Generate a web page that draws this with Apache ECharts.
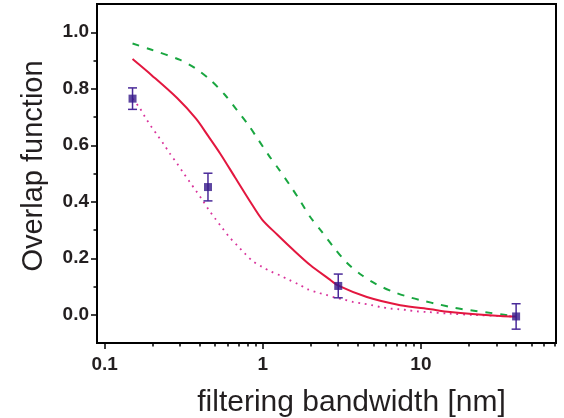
<!DOCTYPE html>
<html><head><meta charset="utf-8">
<script src="https://cdn.jsdelivr.net/npm/echarts@6/dist/echarts.min.js"></script>
<style>html,body{margin:0;padding:0;background:#fff}#c{width:564px;height:418px}</style>
</head><body><div id="c"></div>
<script>
// ---- data (x in nm, log axis) ----
const xMajorTicks = [0.1, 1, 10];
const xMinorTicks = [0.2,0.3,0.4,0.5,0.6,0.7,0.8,0.9,2,3,4,5,6,7,8,9,20,30,40,50,60,70];
const yMajorTicks = [0, 0.2, 0.4, 0.6, 0.8, 1.0];
const yMinorTicks = [0.1, 0.3, 0.5, 0.7, 0.9];

const measuredBandwidth = [0.15, 0.45, 3.0, 40];
const measuredOverlap   = [0.765, 0.452, 0.102, -0.006];
const measuredError     = [0.038, 0.049, 0.042, 0.045];

const solidBandwidth = [0.15,0.198,0.287,0.378,0.451,0.537,0.668,0.831,0.99,1.232,1.555,1.993,2.602,3.03,4.55,7.4,11.5,15.3,31.8,40];
const solidOverlap   = [0.905,0.848,0.767,0.694,0.633,0.571,0.486,0.401,0.337,0.284,0.230,0.176,0.128,0.102,0.063,0.034,0.0195,0.010,-0.004,-0.006];

const dashBandwidth = [0.15,0.198,0.3,0.373,0.464,0.577,0.685,0.81,0.938,1.085,1.274,1.49,1.72,1.99,2.36,2.8,3.4,4.23,5.27,6.71,8.35,10.4,12.9,16.1,20.5,25.5,31.8,38];
const dashOverlap   = [0.960,0.938,0.902,0.873,0.832,0.778,0.725,0.672,0.619,0.566,0.512,0.457,0.404,0.347,0.294,0.240,0.184,0.140,0.107,0.081,0.063,0.049,0.037,0.025,0.016,0.009,0.002,-0.004];

const dotBandwidth = [0.15,0.166,0.18,0.196,0.216,0.236,0.259,0.287,0.314,0.345,0.378,0.415,0.453,0.499,0.551,0.612,0.69,0.772,0.864,0.986,1.125,1.286,1.47,1.68,1.93,2.2,2.52,2.87,3.27,3.74,4.27,4.87,5.58,6.39,7.29,8.31,9.44,10.8,15,22,31,40];
const dotOverlap   = [0.765,0.733,0.700,0.668,0.635,0.604,0.570,0.535,0.503,0.470,0.439,0.406,0.373,0.341,0.309,0.276,0.245,0.216,0.190,0.170,0.153,0.139,0.123,0.108,0.090,0.079,0.070,0.061,0.054,0.045,0.040,0.034,0.027,0.022,0.0195,0.016,0.012,0.010,0.004,-0.001,-0.004,-0.006];

const xMin = 0.0894, xMax = 71.5;
const yMin = -0.1, yMax = 1.1;

// ---- build ----
const lg = v => Math.log10(v);
const pairs = (xs, ys) => xs.map((x, i) => [lg(x), ys[i]]);
const txt = '#231f20';
const tickFont = {fontFamily: 'Liberation Sans', fontWeight: 'bold', fontSize: 19, color: txt};

const chart = echarts.init(document.getElementById('c'), null, {renderer: 'canvas'});
chart.setOption({
  backgroundColor: '#fff',
  animation: false,
  grid: {left: 97, right: 8, top: 4, bottom: 75, containLabel: false, outerBoundsMode: 'none',
         show: true, borderColor: '#000', borderWidth: 2, backgroundColor: 'transparent'},
  xAxis: [{
    type: 'value', min: lg(xMin), max: lg(xMax),
    name: 'filtering bandwidth [nm]', nameLocation: 'middle', nameGap: 45,
    nameTextStyle: {fontFamily: 'Liberation Sans', fontSize: 30, color: txt, padding: [0, 0, 0, 50]},
    axisLine: {show: true, onZero: false, lineStyle: {color: '#000', width: 2}},
    axisTick: {show: true, customValues: xMajorTicks.map(lg), length: 6, lineStyle: {color: '#000', width: 1.5}},
    axisLabel: Object.assign({customValues: xMajorTicks.map(lg), margin: 12,
      formatter: v => String(Number(Math.pow(10, v).toPrecision(3)))}, tickFont),
    splitLine: {show: false}
  }, {
    type: 'value', min: lg(xMin), max: lg(xMax), position: 'bottom',
    axisLine: {show: false, onZero: false},
    axisTick: {show: true, customValues: xMinorTicks.map(lg), length: 3.5, lineStyle: {color: '#000', width: 1.5}},
    axisLabel: {show: false}, splitLine: {show: false}
  }],
  yAxis: [{
    type: 'value', min: yMin, max: yMax,
    name: 'Overlap function', nameLocation: 'middle', nameGap: 49,
    nameTextStyle: {fontFamily: 'Liberation Sans', fontSize: 29, color: txt, padding: [0, 0, 0, 15]},
    axisLine: {show: true, onZero: false, lineStyle: {color: '#000', width: 2}},
    axisTick: {show: true, customValues: yMajorTicks, length: 6, lineStyle: {color: '#000', width: 1.5}},
    axisLabel: Object.assign({customValues: yMajorTicks, margin: 8, formatter: v => v.toFixed(1)}, tickFont),
    splitLine: {show: false}
  }, {
    type: 'value', min: yMin, max: yMax, position: 'left',
    axisLine: {show: false, onZero: false},
    axisTick: {show: true, customValues: yMinorTicks, length: 3.5, lineStyle: {color: '#000', width: 1.5}},
    axisLabel: {show: false}, splitLine: {show: false}
  }],
  series: [
    {type: 'line', data: pairs(dashBandwidth, dashOverlap), smooth: 0.3, showSymbol: false,
     lineStyle: {color: '#19a640', width: 2, type: [7, 8]}, z: 2},
    {type: 'line', data: pairs(dotBandwidth, dotOverlap), smooth: 0.3, showSymbol: false,
     lineStyle: {color: '#d9329b', width: 1.8, type: [1.8, 4.8]}, z: 2},
    {type: 'line', data: pairs(solidBandwidth, solidOverlap), smooth: 0.3, showSymbol: false,
     lineStyle: {color: '#e3173f', width: 2}, z: 3},
    {type: 'custom', z: 4,
     data: measuredBandwidth.map((b, i) => [lg(b), measuredOverlap[i], measuredError[i]]),
     renderItem: (params, api) => {
       const x = api.value(0), y = api.value(1), e = api.value(2);
       const t = api.coord([x, y + e]), b = api.coord([x, y - e]);
       const hw = 4.5, st = {stroke: '#4a2a99', lineWidth: 1.5};
       return {type: 'group', children: [
         {type: 'line', shape: {x1: t[0], y1: t[1], x2: b[0], y2: b[1]}, style: st},
         {type: 'line', shape: {x1: t[0] - hw, y1: t[1], x2: t[0] + hw, y2: t[1]}, style: st},
         {type: 'line', shape: {x1: b[0] - hw, y1: b[1], x2: b[0] + hw, y2: b[1]}, style: st}
       ]};
     }},
    {type: 'scatter', data: pairs(measuredBandwidth, measuredOverlap), symbol: 'rect', symbolSize: 8,
     itemStyle: {color: '#36198a'}, z: 5}
  ]
});
</script></body></html>
